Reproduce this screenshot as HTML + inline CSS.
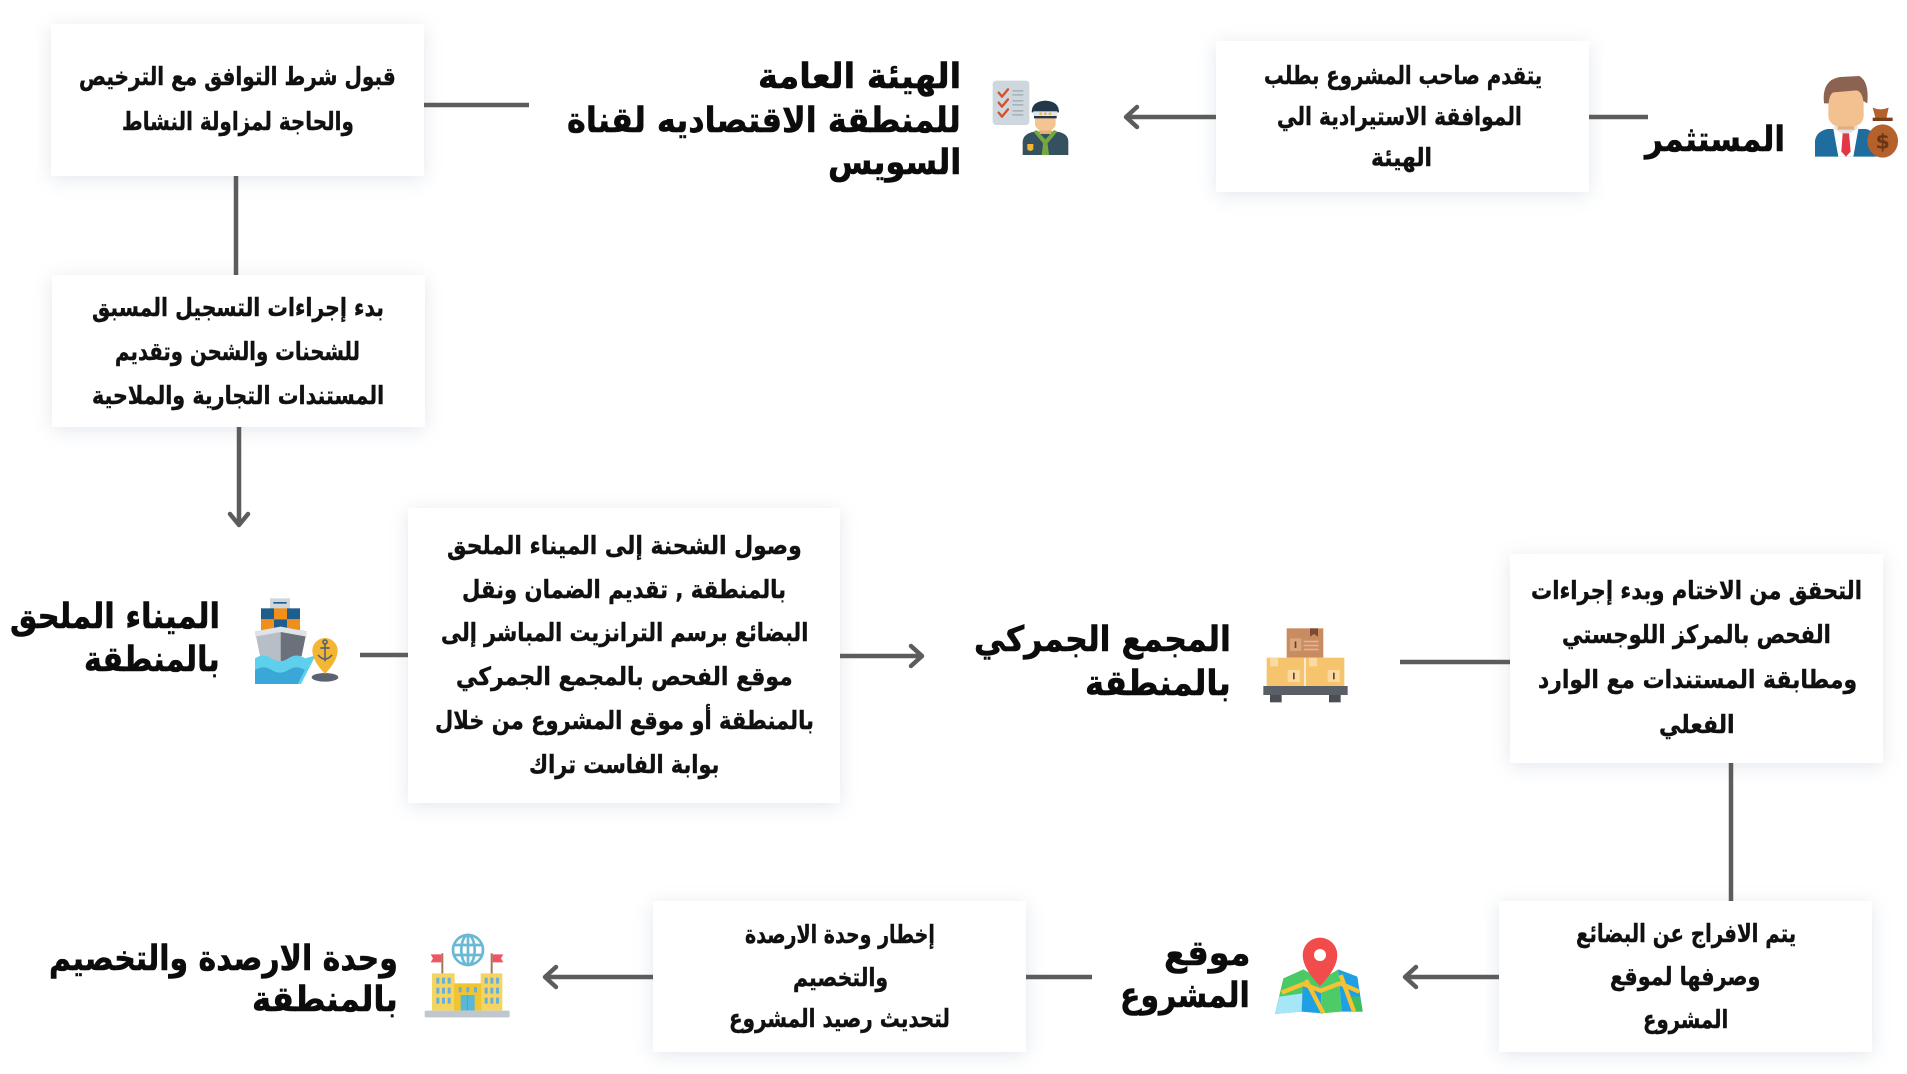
<!DOCTYPE html>
<html lang="ar">
<head>
<meta charset="utf-8">
<style>
html,body{margin:0;padding:0;background:#fff;}
body{width:1907px;height:1074px;position:relative;overflow:hidden;font-family:"DejaVu Sans","Liberation Sans",sans-serif;}
.box{position:absolute;background:#fff;box-shadow:0 3px 18px rgba(110,135,165,0.20);}
.t{position:absolute;white-space:nowrap;direction:rtl;font-weight:bold;color:#111;transform-origin:0 50%;-webkit-text-stroke:0.4px #111;}
.b{font-size:25px;line-height:40px;height:40px;}
.h{font-size:35px;line-height:44px;height:44px;color:#0c0c0c;-webkit-text-stroke:0.6px #0c0c0c;}
svg{position:absolute;}
</style>
</head>
<body>

<!-- boxes -->
<div class="box" style="left:51px;top:24px;width:373px;height:152px;"></div>
<div class="box" style="left:52px;top:275px;width:373px;height:152px;"></div>
<div class="box" style="left:1216px;top:41px;width:373px;height:151px;"></div>
<div class="box" style="left:408px;top:508px;width:432px;height:295px;"></div>
<div class="box" style="left:1510px;top:554px;width:373px;height:209px;"></div>
<div class="box" style="left:653px;top:901px;width:373px;height:151px;"></div>
<div class="box" style="left:1499px;top:901px;width:373px;height:151px;"></div>

<!-- connectors -->
<svg width="1907" height="1074" style="left:0;top:0;" viewBox="0 0 1907 1074">
<g stroke="#5c5c5c" stroke-width="4.5" fill="none" stroke-linecap="butt">
<line x1="424" y1="105" x2="529" y2="105"/>
<line x1="236" y1="176" x2="236" y2="275"/>
<line x1="239" y1="427" x2="239" y2="525"/>
<polyline points="230,514 239,525 248,514" stroke-linecap="round" stroke-linejoin="round"/>
<line x1="1216" y1="117" x2="1127" y2="117"/>
<polyline points="1137,107 1126,117 1137,127" stroke-linecap="round" stroke-linejoin="round"/>
<line x1="1589" y1="117" x2="1648" y2="117"/>
<line x1="360" y1="655" x2="408" y2="655"/>
<line x1="840" y1="656" x2="921" y2="656"/>
<polyline points="911,646 922,656 911,666" stroke-linecap="round" stroke-linejoin="round"/>
<line x1="1400" y1="662" x2="1510" y2="662"/>
<line x1="1731" y1="763" x2="1731" y2="901"/>
<line x1="1499" y1="977" x2="1406" y2="977"/>
<polyline points="1416,967 1405,977 1416,987" stroke-linecap="round" stroke-linejoin="round"/>
<line x1="1026" y1="977" x2="1092" y2="977"/>
<line x1="653" y1="977" x2="546" y2="977"/>
<polyline points="556,967 545,977 556,987" stroke-linecap="round" stroke-linejoin="round"/>
</g>
</svg>

<!-- investor icon -->
<svg style="left:1800px;top:65px;" width="107" height="100" viewBox="0 0 321 300">
<path d="M45,275 L45,228 Q48,200 82,192 L198,192 Q228,200 230,228 L230,275 Z" fill="#1f6c9e"/>
<polygon points="100,192 175,192 160,275 115,275" fill="#ffffff"/>
<polygon points="100,190 137,212 175,190 168,178 106,178" fill="#dfe6ee"/>
<polygon points="128,205 147,205 152,260 138,275 124,260" fill="#e23744"/>
<rect x="113" y="158" width="50" height="36" fill="#e5ad7c"/>
<rect x="85" y="72" width="106" height="112" rx="32" fill="#f2c18f"/>
<path d="M72,115 Q64,45 120,36 L178,33 Q208,50 202,115 L190,108 Q186,80 170,76 L100,82 Q88,88 86,115 Z" fill="#8c6350"/>
<path d="M228,165 L218,128 Q240,138 266,128 L258,165 Z" fill="#b5612b"/>
<ellipse cx="248" cy="228" rx="46" ry="50" fill="#b5612b"/>
<rect x="218" y="158" width="60" height="10" fill="#7a3f1d"/>
<text x="248" y="250" font-size="62" font-weight="bold" text-anchor="middle" fill="#6e3515" font-family="DejaVu Sans, sans-serif">$</text>
</svg>

<!-- officer icon -->
<svg style="left:980px;top:70px;" width="100" height="95" viewBox="0 0 300 285">
<rect x="38" y="32" width="110" height="133" rx="10" fill="#cfd7de"/>
<g stroke="#d4522a" stroke-width="7" fill="none" stroke-linecap="round" stroke-linejoin="round">
<polyline points="56,68 66,80 84,58"/><polyline points="56,98 66,110 84,88"/><polyline points="56,128 66,140 84,118"/>
</g>
<g fill="#a9b3bc">
<rect x="97" y="60" width="33" height="5"/><rect x="97" y="72" width="33" height="5"/>
<rect x="97" y="90" width="33" height="5"/><rect x="97" y="102" width="33" height="5"/>
<rect x="97" y="120" width="33" height="5"/><rect x="97" y="132" width="33" height="5"/>
</g>
<path d="M128,255 L128,215 Q130,190 165,185 L230,185 Q265,190 265,215 L265,255 Z" fill="#35505f"/>
<polygon points="160,185 196,228 232,185 222,180 196,208 170,180" fill="#73a83f"/>
<polygon points="190,215 202,215 207,255 185,255" fill="#73a83f"/>
<path d="M142,222 L160,222 L160,238 Q151,248 142,238 Z" fill="#f2b631"/>
<rect x="178" y="170" width="36" height="22" fill="#e8ae7c"/>
<rect x="165" y="118" width="62" height="64" rx="22" fill="#f4c592"/>
<path d="M155,127 Q155,94 196,92 Q237,94 237,127 Z" fill="#22384a"/>
<rect x="160" y="124" width="72" height="14" fill="#dfe5ea"/>
<circle cx="182" cy="131" r="4" fill="#f2b631"/><circle cx="196" cy="131" r="4" fill="#f2b631"/><circle cx="210" cy="131" r="4" fill="#f2b631"/>
<rect x="162" y="138" width="68" height="7" fill="#22384a"/>
</svg>

<!-- ship icon -->
<svg style="left:245px;top:590px;" width="105" height="100" viewBox="0 0 315 300">
<rect x="75" y="25" width="60" height="32" fill="#cfd6dd"/>
<rect x="85" y="36" width="40" height="5" fill="#1e5d8c"/>
<rect x="48" y="55" width="39" height="33" fill="#1e5d8c"/><rect x="87" y="55" width="39" height="33" fill="#f0901a"/><rect x="126" y="55" width="39" height="33" fill="#1e5d8c"/>
<rect x="48" y="88" width="39" height="32" fill="#f0901a"/><rect x="87" y="88" width="39" height="32" fill="#1e5d8c"/><rect x="126" y="88" width="39" height="32" fill="#f0901a"/>
<polygon points="30,124 107,110 107,225 45,198" fill="#b8bec6"/>
<polygon points="107,110 185,124 170,198 107,225" fill="#6b717b"/>
<polygon points="30,124 107,110 185,124 185,140 107,126 30,140" fill="#dfe3e7"/>
<path d="M30,205 Q55,188 80,205 T130,205 T180,205 L212,196 L168,282 L30,282 Z" fill="#5fd0ec"/>
<path d="M30,240 Q55,224 80,240 T130,240 T180,240 L158,282 L30,282 Z" fill="#3aa7d8"/>
<ellipse cx="240" cy="262" rx="40" ry="13" fill="#5b6270"/>
<path d="M202,182 A38,38 0 1,1 278,182 Q278,212 240,252 Q202,212 202,182 Z" fill="#f2b632"/>
<g stroke="#5b6270" stroke-width="5" fill="none" stroke-linecap="round">
<circle cx="240" cy="156" r="6"/><line x1="240" y1="162" x2="240" y2="212"/><line x1="228" y1="174" x2="252" y2="174"/>
<path d="M220,196 Q240,218 260,196"/>
</g>
</svg>

<!-- boxes icon -->
<svg style="left:1255px;top:620px;" width="100" height="90" viewBox="0 0 300 270">
<rect x="95" y="25" width="110" height="88" fill="#c98b60"/>
<path d="M165,25 L189,25 L189,50 L177,42 L165,50 Z" fill="#7d4a34"/>
<rect x="105" y="55" width="34" height="38" fill="#dba57e"/>
<rect x="119" y="64" width="5" height="20" fill="#6b3f2c"/>
<g fill="#e2b394"><rect x="146" y="62" width="45" height="5"/><rect x="146" y="74" width="45" height="5"/><rect x="146" y="86" width="45" height="5"/></g>
<rect x="35" y="113" width="113" height="85" fill="#f6c46c"/>
<rect x="152" y="113" width="116" height="85" fill="#f6c46c"/>
<rect x="45" y="113" width="24" height="26" fill="#fbdaa2"/>
<rect x="162" y="113" width="24" height="26" fill="#fbdaa2"/>
<rect x="98" y="150" width="36" height="36" fill="#fbdaa2"/><rect x="114" y="158" width="5" height="20" fill="#6b3f2c"/>
<rect x="218" y="150" width="36" height="36" fill="#fbdaa2"/><rect x="234" y="158" width="5" height="20" fill="#6b3f2c"/>
<rect x="25" y="198" width="253" height="27" fill="#5a5e66"/>
<rect x="45" y="225" width="35" height="22" fill="#4a4e55"/>
<rect x="222" y="225" width="35" height="22" fill="#4a4e55"/>
</svg>

<!-- map icon -->
<svg style="left:1270px;top:930px;" width="100" height="95" viewBox="0 0 300 285">
<polygon points="40,145 100,118 95,245 15,252" fill="#4bc964"/>
<polygon points="28,200 97,190 95,245 15,252" fill="#a6e6f8"/>
<polygon points="100,118 152,150 155,250 95,245" fill="#1fa0e3"/>
<polygon points="100,118 152,150 152,185 98,165" fill="#4bc964"/>
<polygon points="152,150 205,118 215,245 155,250" fill="#4dcb66"/>
<polygon points="205,118 262,140 278,245 215,245" fill="#1fa0e3"/>
<polygon points="240,200 270,200 278,245 245,245" fill="#3dbd5c"/>
<g stroke="#f7c232" stroke-width="13" fill="none" stroke-linejoin="round">
<polyline points="35,188 100,162 152,182 210,160 268,185"/>
<line x1="108" y1="150" x2="160" y2="250"/>
<line x1="212" y1="135" x2="252" y2="245"/>
</g>
<path d="M98,75 A52,52 0 1,1 202,75 Q202,115 150,168 Q98,115 98,75 Z" fill="#f24b4b"/>
<circle cx="150" cy="75" r="18" fill="#ffffff"/>
</svg>

<!-- building icon -->
<svg style="left:418px;top:925px;" width="100" height="100" viewBox="0 0 300 300">
<g stroke="#6ab9d4" stroke-width="8" fill="none">
<circle cx="150" cy="75" r="45"/><ellipse cx="150" cy="75" rx="20" ry="45"/>
<line x1="108" y1="60" x2="192" y2="60"/><line x1="108" y1="90" x2="192" y2="90"/><line x1="150" y1="30" x2="150" y2="120"/>
</g>
<rect x="70" y="85" width="6" height="65" fill="#a27a4f"/>
<rect x="218" y="85" width="6" height="65" fill="#a27a4f"/>
<polygon points="70,88 38,88 45,100 38,112 70,112" fill="#ef5564"/>
<polygon points="224,88 256,88 249,100 256,112 224,112" fill="#ef5564"/>
<rect x="42" y="145" width="68" height="112" fill="#f5d562"/>
<rect x="188" y="145" width="65" height="112" fill="#f5d562"/>
<rect x="108" y="175" width="82" height="82" fill="#f1c431"/>
<g fill="#6aafd8">
<rect x="55" y="158" width="9" height="18"/><rect x="72" y="158" width="9" height="18"/><rect x="89" y="158" width="9" height="18"/>
<rect x="55" y="188" width="9" height="18"/><rect x="72" y="188" width="9" height="18"/><rect x="89" y="188" width="9" height="18"/>
<rect x="55" y="218" width="9" height="18"/><rect x="72" y="218" width="9" height="18"/><rect x="89" y="218" width="9" height="18"/>
<rect x="200" y="158" width="9" height="18"/><rect x="217" y="158" width="9" height="18"/><rect x="234" y="158" width="9" height="18"/>
<rect x="200" y="188" width="9" height="18"/><rect x="217" y="188" width="9" height="18"/><rect x="234" y="188" width="9" height="18"/>
<rect x="200" y="218" width="9" height="18"/><rect x="217" y="218" width="9" height="18"/><rect x="234" y="218" width="9" height="18"/>
<rect x="122" y="186" width="9" height="16"/><rect x="145" y="186" width="9" height="16"/><rect x="168" y="186" width="9" height="16"/>
</g>
<rect x="128" y="210" width="42" height="47" fill="#58b8d8"/>
<rect x="148" y="210" width="2" height="47" fill="#3f9fc0"/>
<rect x="20" y="257" width="255" height="20" rx="4" fill="#bfc6cd"/>
</svg>

<!-- box texts -->
<span class="t b" style="left:79px;top:57px;--w:317;">قبول شرط التوافق مع الترخيص</span>
<span class="t b" style="left:122px;top:102px;--w:232;">والحاجة لمزاولة النشاط</span>

<span class="t b" style="left:92px;top:288px;--w:292;">بدء إجراءات التسجيل المسبق</span>
<span class="t b" style="left:115px;top:332px;--w:245;">للشحنات والشحن وتقديم</span>
<span class="t b" style="left:92px;top:376px;--w:292;">المستندات التجارية والملاحية</span>

<span class="t b" style="left:1264px;top:56px;--w:278;">يتقدم صاحب المشروع بطلب</span>
<span class="t b" style="left:1277px;top:97px;--w:245;">الموافقة الاستيرادية الي</span>
<span class="t b" style="left:1371px;top:138px;--w:61;">الهيئة</span>

<span class="t b" style="left:447px;top:526px;--w:355;">وصول الشحنة إلى الميناء الملحق</span>
<span class="t b" style="left:462px;top:570px;--w:324;">بالمنطقة , تقديم الضمان ونقل</span>
<span class="t b" style="left:441px;top:613px;--w:367;">البضائع برسم الترانزيت المباشر إلى</span>
<span class="t b" style="left:456px;top:657px;--w:337;">موقع الفحص بالمجمع الجمركي</span>
<span class="t b" style="left:435px;top:701px;--w:379;">بالمنطقة أو موقع المشروع من خلال</span>
<span class="t b" style="left:529px;top:745px;--w:190;">بوابة الفاست تراك</span>

<span class="t b" style="left:1531px;top:571px;--w:331;">التحقق من الاختام وبدء إجراءات</span>
<span class="t b" style="left:1562px;top:615px;--w:269;">الفحص بالمركز اللوجستي</span>
<span class="t b" style="left:1538px;top:660px;--w:319;">ومطابقة المستندات مع الوارد</span>
<span class="t b" style="left:1659px;top:705px;--w:76;">الفعلي</span>

<span class="t b" style="left:745px;top:915px;--w:190;">إخطار وحدة الارصدة</span>
<span class="t b" style="left:793px;top:958px;--w:95;">والتخصيم</span>
<span class="t b" style="left:729px;top:999px;--w:221;">لتحديث رصيد المشروع</span>

<span class="t b" style="left:1576px;top:914px;--w:220;">يتم الافراج عن البضائع</span>
<span class="t b" style="left:1610px;top:957px;--w:150;">وصرفها لموقع</span>
<span class="t b" style="left:1643px;top:1000px;--w:85;">المشروع</span>

<!-- titles -->
<span class="t h" style="left:758px;top:55px;--w:203;">الهيئة العامة</span>
<span class="t h" style="left:567px;top:99px;--w:394;">للمنطقة الاقتصاديه لقناة</span>
<span class="t h" style="left:828px;top:141px;--w:133;">السويس</span>

<span class="t h" style="left:1645px;top:118px;--w:140;">المستثمر</span>

<span class="t h" style="left:10px;top:595px;--w:210;">الميناء الملحق</span>
<span class="t h" style="left:84px;top:638px;--w:136;">بالمنطقة</span>

<span class="t h" style="left:974px;top:618px;--w:257;">المجمع الجمركي</span>
<span class="t h" style="left:1085px;top:662px;--w:146;">بالمنطقة</span>

<span class="t h" style="left:49px;top:937px;--w:349;">وحدة الارصدة والتخصيم</span>
<span class="t h" style="left:252px;top:978px;--w:146;">بالمنطقة</span>

<span class="t h" style="left:1164px;top:932px;--w:86;">موقع</span>
<span class="t h" style="left:1120px;top:974px;--w:130;">المشروع</span>

<script>
(function(){
  function fit(){
    var els=document.querySelectorAll('.t');
    for(var i=0;i<els.length;i++){
      var e=els[i];
      e.style.transform='none';
      var w=parseFloat(e.style.getPropertyValue('--w'));
      var r=e.offsetWidth;
      if(w>0&&r>0){e.style.transform='scaleX('+(w/r)+')';}
    }
  }
  fit();
  if(document.fonts&&document.fonts.ready){document.fonts.ready.then(fit);}
  window.addEventListener('load',fit);
})();
</script>
</body>
</html>
